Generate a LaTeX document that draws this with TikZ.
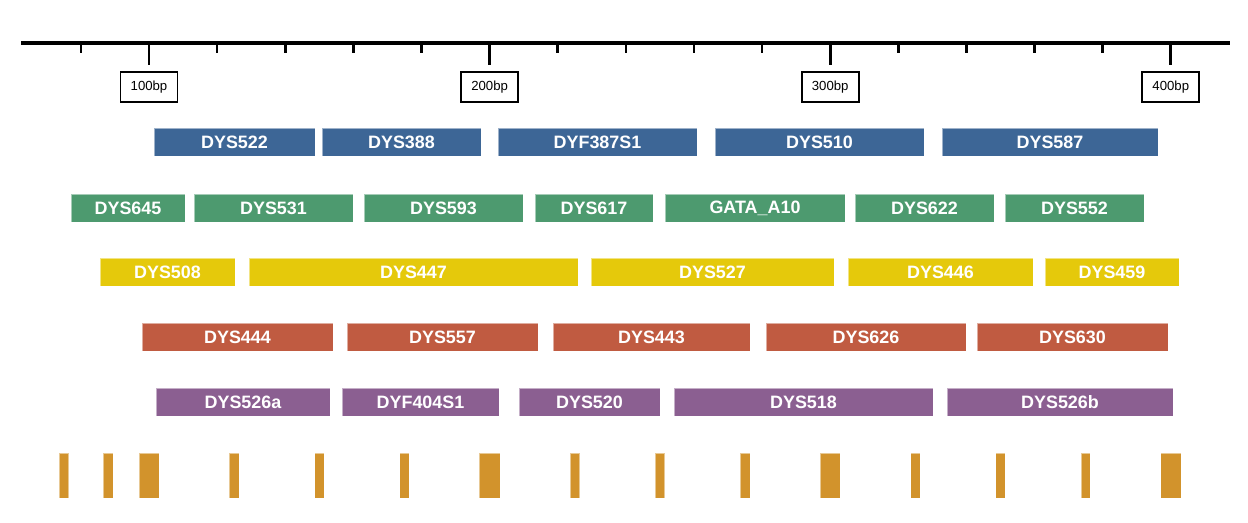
\documentclass[tikz,border=0pt]{standalone}
\usepackage{fontspec}
\setmainfont{Liberation Sans}
\usepackage{tikz}

\definecolor{dysblue}{HTML}{3D6696}
\definecolor{dysgreen}{HTML}{4D9A6F}
\definecolor{dysyellow}{HTML}{E5C90B}
\definecolor{dysred}{HTML}{C05B41}
\definecolor{dyspurple}{HTML}{8B5F91}
\definecolor{dysorange}{HTML}{D2932C}

\begin{document}
\begin{tikzpicture}[x=0.02cm, y=-0.02cm,
		gene/.style={rectangle, inner sep=0pt, minimum height=0.56cm, text=white,
			font=\fontsize{10.2}{12}\selectfont\bfseries, draw=white, draw opacity=0.5, line width=0.3pt},
		bplabel/.style={draw=black, line width=1.1pt, fill=white, inner sep=0pt,
			minimum width=1.14cm, minimum height=0.6cm, font=\fontsize{7.5}{9}\selectfont}]
		\useasboundingbox (0, 0) rectangle (1248, 523);
		% Ruler with minor ticks every 20bp, labelled ticks every 100bp.
		\draw[line width=2.8pt] (21, 43) -- (1230, 43);
		\foreach \b in {80, 120, 140, 160, 180, 220, 240, 260, 280, 320, 340, 360, 380} {
			\pgfmathsetmacro{\px}{149 + (\b - 100) * 3.406}
			\draw[line width=1.5pt] (\px, 43) -- (\px, 53);
		}
		\foreach \b in {100, 200, 300, 400} {
			\pgfmathsetmacro{\px}{149 + (\b - 100) * 3.406}
			\draw[line width=1.5pt] (\px, 43) -- (\px, 65);
			\node[bplabel] (lab\b) at (\px, 87) {\b bp};
		}
		% Marker rows.
		\foreach \l/\r/\t [count=\i] in {154/315/DYS522, 322/481/DYS388, 498/697/DYF387S1,
				715/924/DYS510, 942/1158/DYS587} {
			\node[gene, fill=dysblue, minimum width={(\r - \l) * 0.02cm}] (blue\i) at ({(\l + \r) / 2}, 142) {\t};
		}
		\foreach \l/\r/\t [count=\i] in {71/185/DYS645, 194/353/DYS531, 364/523/DYS593, 535/653/DYS617,
				665/845/GATA\_A10, 855/994/DYS622, 1005/1144/DYS552} {
			\node[gene, fill=dysgreen, minimum width={(\r - \l) * 0.02cm}] (green\i) at ({(\l + \r) / 2}, 208) {\t};
		}
		\foreach \l/\r/\t [count=\i] in {100/235/DYS508, 249/578/DYS447, 591/834/DYS527,
				848/1033/DYS446, 1045/1179/DYS459} {
			\node[gene, fill=dysyellow, minimum width={(\r - \l) * 0.02cm}] (yellow\i) at ({(\l + \r) / 2}, 272) {\t};
		}
		\foreach \l/\r/\t [count=\i] in {142/333/DYS444, 347/538/DYS557, 553/750/DYS443,
				766/966/DYS626, 977/1168/DYS630} {
			\node[gene, fill=dysred, minimum width={(\r - \l) * 0.02cm}] (red\i) at ({(\l + \r) / 2}, 337) {\t};
		}
		\foreach \l/\r/\t [count=\i] in {156/330/DYS526a, 342/499/DYF404S1, 519/660/DYS520,
				674/933/DYS518, 947/1173/DYS526b} {
			\node[gene, fill=dyspurple, minimum width={(\r - \l) * 0.02cm}] (purple\i) at ({(\l + \r) / 2}, 402) {\t};
		}
		% Size marks along the bottom (centre and width in bp).
		\foreach \c/\w in {75/2.8, 88/2.8, 100/6, 125/2.8, 150/2.8, 175/2.8, 200/6, 225/2.8, 250/2.8,
				275/2.8, 300/6, 325/2.8, 350/2.8, 375/2.8, 400/6} {
			\pgfmathsetmacro{\px}{149 + (\c - 100) * 3.406}
			\pgfmathsetmacro{\hw}{\w * 3.406 / 2}
			\fill[dysorange, draw=white, draw opacity=0.5, line width=0.3pt]
				(\px - \hw, 453) rectangle (\px + \hw, 498);
		}
	\end{tikzpicture}
\end{document}
